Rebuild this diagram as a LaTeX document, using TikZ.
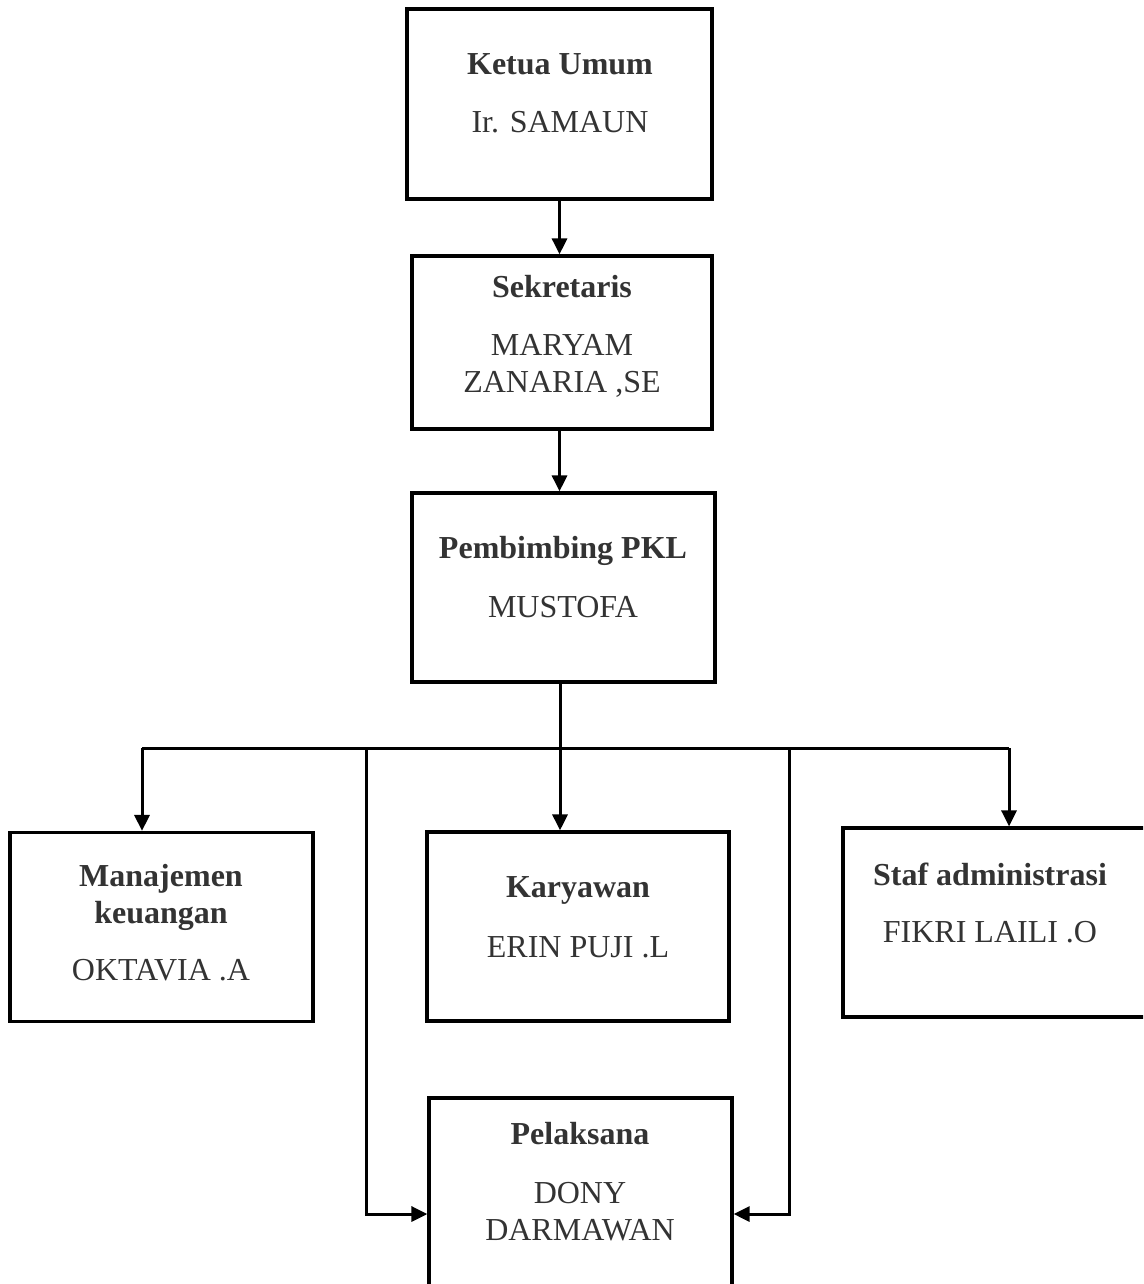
\documentclass[tikz,border=0pt]{standalone}
\usepackage{fontspec}
\setmainfont{Liberation Serif}
\usetikzlibrary{arrows.meta}

\begin{document}
\begin{tikzpicture}[
  x=1pt, y=-1pt,
  box/.style={draw,rectangle,line width=3.2pt,inner sep=0pt,minimum width=303,minimum height=189},
  txt/.style={align=center,anchor=base,text=black!80,font=\fontsize{32}{37}\selectfont},
  conn/.style={line width=3pt},
  arr/.style={line width=3pt,-{Triangle[length=16pt,width=15pt]}}
]
  \clip (0,0) rectangle (1143,1284);

  % boxes
  \node[box,minimum width=305,minimum height=190] (ketua) at (559.5,104) {};
  \node[box,minimum width=300,minimum height=173] (sekre) at (562,342.5) {};
  \node[box] (pemb) at (563.5,587.5) {};
  \node[box] (manaj) at (161.5,927) {};
  \node[box,minimum width=302] (kary) at (578,926.5) {};
  \node[box,minimum width=306] (staf) at (996,922.5) {};
  \node[box,minimum height=232] (pelak) at (580.5,1214) {};

  % texts (placed at the baseline of their last line)
  \node[txt] (ketuaT) at (560,133) {\textbf{Ketua Umum}\\[21pt] Ir. SAMAUN};
  \node[txt] (sekreT) at (562,392) {\textbf{Sekretaris}\\[21pt] MARYAM\\ ZANARIA ,SE};
  \node[txt] (pembT) at (563,617) {\textbf{Pembimbing PKL}\\[22pt] MUSTOFA};
  \node[txt] (manajT) at (161,980) {\textbf{Manajemen}\\ \textbf{keuangan}\\[20pt] OKTAVIA .A};
  \node[txt] (karyT) at (578,957) {\textbf{Karyawan}\\[23pt] ERIN PUJI .L};
  \node[txt] (stafT) at (990,942) {\textbf{Staf administrasi}\\[20pt] FIKRI LAILI .O};
  \node[txt] (pelakT) at (580,1240) {\textbf{Pelaksana}\\[22pt] DONY\\ DARMAWAN};

  % bus
  \coordinate (busL) at (142,748);
  \coordinate (busM) at (560,748);
  \coordinate (busR) at (1009,748);
  \coordinate (tapL) at (366,748);
  \coordinate (tapR) at (789,748);

  % edges
  \draw[arr] (ketua.south) -- (ketua.south |- sekre.north);
  \draw[arr] (ketua.south |- sekre.south) -- (ketua.south |- pemb.north);
  \draw[conn] (busM |- pemb.south) -- (busM);
  \draw[conn] (busL) -- (busR);
  \draw[arr] (busL) -- (busL |- manaj.north);
  \draw[arr] (busM) -- (busM |- kary.north);
  \draw[arr] (busR) -- (busR |- staf.north);
  \draw[arr] (tapL) |- (pelak.west);
  \draw[arr] (tapR) |- (pelak.east);
\end{tikzpicture}
\end{document}
